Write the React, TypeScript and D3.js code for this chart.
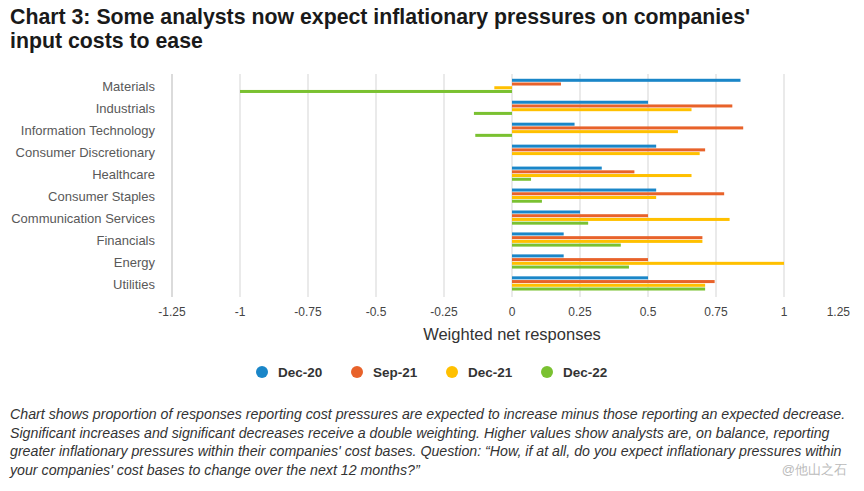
import React from "react";
import * as d3 from "d3";

const categories = [
  "Materials",
  "Industrials",
  "Information Technology",
  "Consumer Discretionary",
  "Healthcare",
  "Consumer Staples",
  "Communication Services",
  "Financials",
  "Energy",
  "Utilities",
];
const seriesNames = ["Dec-20", "Sep-21", "Dec-21", "Dec-22"];
const dec20 = [0.84, 0.5, 0.23, 0.53, 0.33, 0.53, 0.25, 0.19, 0.19, 0.5];
const sep21 = [0.18, 0.81, 0.85, 0.71, 0.45, 0.78, 0.5, 0.7, 0.5, 0.745];
const dec21 = [-0.065, 0.66, 0.61, 0.69, 0.66, 0.53, 0.8, 0.7, 1.0, 0.71];
const dec22 = [-1.0, -0.14, -0.135, 0, 0.07, 0.11, 0.28, 0.4, 0.43, 0.71];
const xTicks = [-1.25, -1, -0.75, -0.5, -0.25, 0, 0.25, 0.5, 0.75, 1, 1.25];
const colors = ["#1a86c8", "#e8622a", "#ffc000", "#7ac131"];
const footnote = [
  "Chart shows proportion of responses reporting cost pressures are expected to increase minus those reporting an expected decrease.",
  "Significant increases and significant decreases receive a double weighting. Higher values show analysts are, on balance, reporting",
  "greater inflationary pressures within their companies' cost bases. Question: \u201cHow, if at all, do you expect inflationary pressures within",
  "your companies' cost bases to change over the next 12 months?\u201d",
];

const W = 864;
const H = 491;
const font = "'Liberation Sans', Arial, sans-serif";

export default function App() {
  const series = [dec20, sep21, dec21, dec22];
  const x = d3.scaleLinear().domain([-1.25, 1.25]).range([172, 852]);
  const y = d3.scaleBand<string>().domain(categories).range([76, 295.5]).padding(0);
  const bw = y.bandwidth();
  const inner = d3
    .scaleBand<number>()
    .domain([0, 1, 2, 3])
    .range([bw * 0.11, bw * 0.79])
    .paddingInner(0.19)
    .paddingOuter(0.1);

  return (
    <svg
      width={W}
      height={H}
      viewBox={`0 0 ${W} ${H}`}
      style={{ position: "absolute", left: 0, top: 0, background: "#fff" }}
      fontFamily={font}
    >
      <rect x={0} y={0} width={W} height={H} fill="#fff" />
      <text x={10} y={23.5} fontSize={21.3} fontWeight="bold" fill="#1a1a1a">
        Chart 3: Some analysts now expect inflationary pressures on companies'
      </text>
      <text x={10} y={48} fontSize={21.3} fontWeight="bold" fill="#1a1a1a">
        input costs to ease
      </text>

      {xTicks
        .filter((t) => t > -1.25 && t < 1.25)
        .map((t) => (
          <line
            key={t}
            x1={x(t)}
            x2={x(t)}
            y1={74}
            y2={297}
            stroke="#e3e3e3"
            strokeWidth={1.5}
          />
        ))}
      <line x1={x(-1.25)} x2={x(-1.25)} y1={74} y2={297} stroke="#cfcfcf" strokeWidth={1.5} />

      {categories.map((c) => (
        <text
          key={c}
          x={155}
          y={(y(c) as number) + bw / 2 + 4.5}
          textAnchor="end"
          fontSize={13}
          fill="#595959"
        >
          {c}
        </text>
      ))}

      {categories.map((c, i) =>
        series.map((s, k) => {
          const v = s[i];
          if (v === 0) return null;
          const x0 = x(Math.min(0, v));
          const x1 = x(Math.max(0, v));
          return (
            <rect
              key={c + k}
              x={x0}
              y={(y(c) as number) + (inner(k) as number)}
              width={x1 - x0}
              height={inner.bandwidth()}
              fill={colors[k]}
            />
          );
        })
      )}

      {xTicks.map((t, i) => (
        <text
          key={t}
          x={i === xTicks.length - 1 ? x(t) - 2 : x(t)}
          y={316}
          textAnchor={i === xTicks.length - 1 ? "end" : "middle"}
          fontSize={12}
          fill="#444"
        >
          {String(t)}
        </text>
      ))}
      <text x={x(0)} y={339.5} textAnchor="middle" fontSize={16.5} fill="#333">
        Weighted net responses
      </text>

      {seriesNames.map((n, k) => (
        <g key={n} transform={`translate(${262 + k * 95},372)`}>
          <circle cx={0} cy={0} r={6} fill={colors[k]} />
          <text x={16} y={5} fontSize={13.5} fontWeight="bold" fill="#333">
            {n}
          </text>
        </g>
      ))}

      {footnote.map((l, i) => (
        <text
          key={i}
          x={10}
          y={419 + i * 18.5}
          fontSize={14.2}
          fontStyle="italic"
          fill="#333"
        >
          {l}
        </text>
      ))}
      <text x={847} y={474} textAnchor="end" fontSize={13} fill="#bbb">
        @他山之石
      </text>
    </svg>
  );
}
